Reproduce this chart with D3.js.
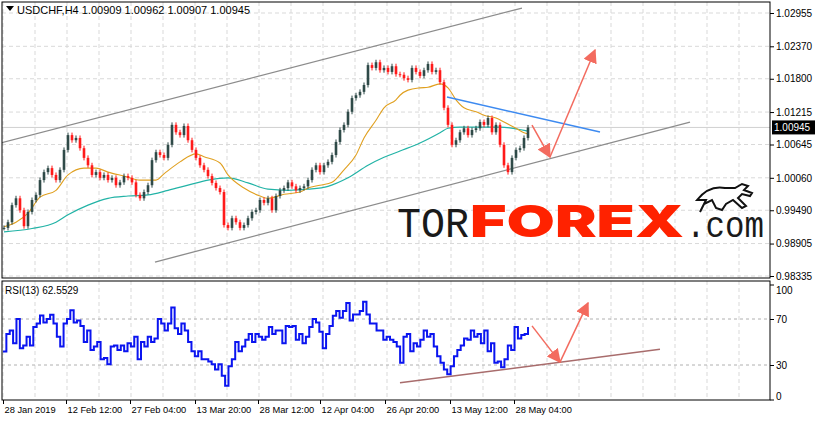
<!DOCTYPE html>
<html><head><meta charset="utf-8">
<script src="https://cdn.jsdelivr.net/npm/d3@7"></script>
<style>body{margin:0;background:#fff}svg{display:block}</style>
</head><body><svg id="c" width="815" height="422"></svg>
<script>
const closes=[0.9918,0.9928,0.9958,0.9970,0.9949,0.9921,0.9946,0.9967,0.9976,1.0002,1.0016,1.0023,1.0011,1.0002,1.0020,1.0055,1.0081,1.0072,1.0076,1.0058,1.0041,1.0028,1.0011,1.0016,1.0006,1.0011,1.0002,1.0006,0.9993,0.9998,1.0009,1.0006,0.9998,0.9976,0.9970,0.9981,0.9993,1.0037,1.0051,1.0046,1.0041,1.0064,1.0099,1.0086,1.0081,1.0097,1.0072,1.0055,1.0041,1.0028,1.0020,1.0009,0.9997,0.9988,0.9981,0.9923,0.9918,0.9935,0.9928,0.9918,0.9923,0.9935,0.9946,0.9949,0.9967,0.9962,0.9970,0.9949,0.9974,0.9984,0.9988,0.9998,0.9991,0.9984,0.9988,0.9991,1.0002,1.0020,1.0028,1.0016,1.0028,1.0034,1.0046,1.0069,1.0090,1.0099,1.0122,1.0146,1.0151,1.0157,1.0169,1.0204,1.0199,1.0209,1.0195,1.0199,1.0192,1.0202,1.0188,1.0187,1.0181,1.0178,1.0199,1.0192,1.0185,1.0195,1.0206,1.0192,1.0195,1.0174,1.0129,1.0099,1.0064,1.0072,1.0086,1.0093,1.0081,1.0090,1.0093,1.0104,1.0099,1.0111,1.0086,1.0099,1.0064,1.0028,1.0016,1.0041,1.0055,1.0058,1.0076,1.00945];
const maFast=[[0,0.9920],[3,0.9928],[6,0.9944],[9,0.9972],[13,0.9984],[16,1.0011],[20,1.0023],[23,1.0023],[26,1.0016],[30,1.0009],[34,1.0002],[38,1.0002],[40,1.0013],[44,1.0034],[48,1.0048],[50,1.0043],[54,1.0032],[56,1.0011],[60,0.9988],[64,0.9974],[66,0.9970],[70,0.9977],[74,0.9981],[76,0.9988],[79,0.9993],[82,0.9998],[85,1.0020],[88,1.0046],[90,1.0076],[93,1.0107],[95,1.0129],[98,1.0143],[99,1.0151],[101,1.0160],[104,1.0164],[106,1.0165],[109,1.0171],[111,1.0164],[113,1.0143],[115,1.0129],[118,1.0122],[120,1.0116],[123,1.0111],[125,1.0104],[128,1.0093],[130,1.0085],[131,1.0083]];
const maSlow=[[0,0.9911],[7,0.9917],[13,0.9928],[16,0.9941],[21,0.9958],[26,0.9970],[31,0.9974],[36,0.9976],[41,0.9984],[46,0.9993],[51,1.0002],[56,1.0006],[61,0.9997],[66,0.9986],[71,0.9984],[76,0.9986],[81,0.9991],[86,1.0006],[91,1.0028],[95,1.0042],[99,1.0053],[104,1.0067],[109,1.0085],[111,1.0093],[114,1.0095],[119,1.0095],[124,1.0095],[128,1.0092],[131,1.0088]];
const rsi=[41.8,57,60,49,70,44.6,47,54.5,47,63,66,73,67,70,73.7,66,54.5,46,66,70,77.6,67,68.6,64,50,60,43,46,50,35,36,30.6,46,47,43,47,42,49,46,54.5,35,50,46,54.5,50,53,70,66,60,66,80,62,57,66,60,50,42,37.6,42,35,35,33,30.6,26,30.6,20.7,12,29,35,50,42,46,52,57,50,57,54.5,52,54.5,63,57,60,60,49,64,63,64,52,57,49,54.5,63,70,67,59,44.6,57,64,72.8,77,71,77,84,68.6,74,74,77,85,74,66,66,60,60,52,54.5,52,50,46,32,54.5,57,42,49,46,52,60,54.5,57,46,37.6,32,26,22,29,37.6,43,47,53,52,60,54.5,57,49,60,42,49,32,33,28,35,47,43,63,53,56,57,63];
const priceTicks=[1.02955,1.02370,1.01800,1.01215,1.00645,1.00060,0.99490,0.98905,0.98335];
const rsiTicks=[100,70,30,0];
const dateLabels=["28 Jan 2019","12 Feb 12:00","27 Feb 04:00","13 Mar 20:00","28 Mar 12:00","12 Apr 04:00","26 Apr 20:00","13 May 12:00","28 May 04:00"];
const dateIdx=[-0.25,15.5,31.5,47.75,63.5,79,95.25,111.5,127.5];
const channelUp=[[-1,1.00670],[129.5,1.03042]];
const channelLo=[[37.75,0.98580],[171.5,1.01040]];
const blueLine=[[110.75,1.01479],[149,1.00864]];
const arrowPrice=[[132,1.00987],[136.5,1.00425],[147.75,1.02305]];
const rsiTrend=[[99,14.5],[164,43.6]];
const arrowRsi=[[132,64],[139,32.5],[146,84]];
const header="USDCHF,H4  1.00909 1.00962 1.00907 1.00945";
const lastPrice=1.00945;

const svg=d3.select("#c");
const L=2,R=770,T=2,B=278,RT=281,RB=400;
const x=d3.scaleLinear().domain([0,191.5]).range([4,770]);
const y=d3.scaleLinear().domain([0.98335,1.02955]).range([276,13]);
const yr=d3.scaleLinear().domain([0,100]).range([399.5,284.5]);
const font="Liberation Sans, Arial, sans-serif";
const defs=svg.append("defs");
defs.append("clipPath").attr("id","cm").append("rect").attr("x",L).attr("y",T).attr("width",R-L).attr("height",B-T);
defs.append("clipPath").attr("id","cr").append("rect").attr("x",L).attr("y",RT).attr("width",R-L).attr("height",RB-RT);
const mk=defs.append("marker").attr("id","ah").attr("viewBox","0 0 10 10").attr("refX",9).attr("refY",5)
 .attr("markerWidth",14).attr("markerHeight",14).attr("orient","auto-start-reverse").attr("markerUnits","userSpaceOnUse");
mk.append("path").attr("d","M0,0L10,5L0,10z").attr("fill","#f36b5f");

const vgrid=d3.range(-0.25,192,8);
const gm=svg.append("g").attr("clip-path","url(#cm)");
const gr=svg.append("g").attr("clip-path","url(#cr)");
[gm,gr].forEach((g,k)=>{
 g.selectAll("line.v").data(vgrid).join("line").attr("x1",d=>x(d)).attr("x2",d=>x(d))
  .attr("y1",k?RT:T).attr("y2",k?RB:B).attr("stroke","#d9d9d9").attr("stroke-dasharray","4,3");
});
gm.selectAll("line.h").data(priceTicks).join("line").attr("x1",L).attr("x2",R).attr("y1",d=>y(d)).attr("y2",d=>y(d))
 .attr("stroke","#d9d9d9").attr("stroke-dasharray","4,3");
gr.selectAll("line.h").data([70,30]).join("line").attr("x1",L).attr("x2",R).attr("y1",d=>yr(d)).attr("y2",d=>yr(d))
 .attr("stroke","#b0b0b0").attr("stroke-dasharray","3,3");
gm.append("line").attr("x1",L).attr("x2",R).attr("y1",y(lastPrice)).attr("y2",y(lastPrice)).attr("stroke","#d0d0d0");

const lg=svg.append("g");
lg.append("text").attr("x",397).attr("y",237).attr("font-family","Liberation Mono, DejaVu Sans Mono, monospace").attr("font-size",43)
 .attr("textLength",72).attr("lengthAdjust","spacingAndGlyphs").attr("fill","#1a1a1a").text("TOR");
lg.append("text").attr("x",470).attr("y",237).attr("font-family","Inter, Open Sans, sans-serif").attr("font-weight",900).attr("font-size",44)
 .attr("textLength",214).attr("lengthAdjust","spacingAndGlyphs").attr("fill","#ff2200").text("FOREX");
lg.append("text").attr("x",686).attr("y",237).attr("font-family","Liberation Mono, DejaVu Sans Mono, monospace").attr("font-size",36)
 .attr("textLength",78).attr("lengthAdjust","spacingAndGlyphs").attr("fill","#1a1a1a").text(".com");
lg.append("path").attr("d","M697,200 C705,190 715,186 725,188 L735,188 L742,184 L748,186 L744,190 L752,193 L750,196 L742,194 L738,198 L746,206 L742,208 L733,200 L726,204 L722,210 L716,208 L712,200 L704,204 L700,212 L706,200 Z")
 .attr("fill","#fff").attr("stroke","#111").attr("stroke-width",2);

const ln=d3.line().x(d=>x(d[0]));
gm.append("path").attr("d",ln.y(d=>y(d[1]))(channelUp)).attr("stroke","#8c8c8c").attr("stroke-width",1.3).attr("fill","none");
gm.append("path").attr("d",ln.y(d=>y(d[1]))(channelLo)).attr("stroke","#8c8c8c").attr("stroke-width",1.3).attr("fill","none");

const lm=d3.line().x(d=>x(d[0])).y(d=>y(d[1])).curve(d3.curveMonotoneX);
gm.append("path").attr("d",lm(maSlow)).attr("stroke","#22b3a6").attr("stroke-width",1.2).attr("fill","none");
gm.append("path").attr("d",lm(maFast)).attr("stroke","#e0a020").attr("stroke-width",1.1).attr("fill","none");

const cd=closes.map((c,i)=>({i,o:i?closes[i-1]:c,c}));
const cg=gm.append("g");
cg.selectAll("line").data(cd).join("line").attr("x1",d=>x(d.i)).attr("x2",d=>x(d.i))
 .attr("y1",d=>y(Math.max(d.o,d.c))-2.5).attr("y2",d=>y(Math.min(d.o,d.c))+2.5)
 .attr("stroke",d=>d.c>=d.o?"#2f4a48":"#ff1a1a").attr("stroke-width",1);
cg.selectAll("rect").data(cd).join("rect").attr("x",d=>x(d.i)-1.3).attr("width",2.6)
 .attr("y",d=>y(Math.max(d.o,d.c))).attr("height",d=>Math.max(1,Math.abs(y(d.o)-y(d.c))))
 .attr("fill",d=>d.c>=d.o?"#2f4a48":"#ff1a1a");

gm.append("path").attr("d",ln.y(d=>y(d[1]))(blueLine)).attr("stroke","#3d8af0").attr("stroke-width",1.5).attr("fill","none");
const arrow=(g,pts,ys)=>{
 for(let k=0;k<pts.length-1;k++) g.append("line").attr("x1",x(pts[k][0])).attr("y1",ys(pts[k][1])).attr("x2",x(pts[k+1][0])).attr("y2",ys(pts[k+1][1]))
  .attr("stroke","#f36b5f").attr("stroke-width",1.5).attr("marker-end","url(#ah)");
};
arrow(svg.append("g"),arrowPrice,y);

gr.append("path").attr("d",ln.y(d=>yr(d[1]))(rsiTrend)).attr("stroke","#a86c6c").attr("stroke-width",1.5).attr("fill","none");
const rx=d3.scaleLinear().domain([0,rsi.length-1]).range([x(0)-1,x(closes.length-1)]);
gr.append("path").attr("d",d3.line().x((d,i)=>rx(i)).y(d=>yr(d)).curve(d3.curveStepAfter)(rsi)).attr("stroke","#0a14f0").attr("stroke-width",2).attr("fill","none");
arrow(svg.append("g"),arrowRsi,yr);

svg.append("rect").attr("x",L).attr("y",T).attr("width",R-L).attr("height",B-T).attr("fill","none").attr("stroke","#000");
svg.append("rect").attr("x",L).attr("y",RT).attr("width",R-L).attr("height",RB-RT).attr("fill","none").attr("stroke","#000");

const ay=svg.append("g").attr("transform",`translate(${R},0)`).call(d3.axisRight(y).tickValues(priceTicks).tickFormat(d3.format(".5f")).tickSize(4).tickPadding(2));
const ar=svg.append("g").attr("transform",`translate(${R},0)`).call(d3.axisRight(yr).tickValues(rsiTicks).tickSize(4).tickPadding(2));
[ay,ar].forEach(a=>{a.select(".domain").remove();a.selectAll("text").attr("font-family",font).attr("font-size",10).attr("fill","#000");});
ar.selectAll(".tick").filter(d=>d===100).select("text").attr("dy","0.9em");
ar.selectAll(".tick").filter(d=>d===0).select("text").attr("dy","0em");
const ax=svg.append("g").attr("transform",`translate(0,${RB})`).call(d3.axisBottom(x).tickValues(dateIdx).tickFormat((d,i)=>dateLabels[i]).tickSize(4).tickPadding(2));
ax.select(".domain").remove();
ax.selectAll("text").attr("font-family",font).attr("font-size",9.3).attr("text-anchor","start").attr("dx",1).attr("fill","#000");

svg.append("rect").attr("x",R+2).attr("y",y(lastPrice)-7).attr("width",43).attr("height",14).attr("fill","#000");
svg.append("text").attr("x",R+4).attr("y",y(lastPrice)+4).attr("font-family",font).attr("font-size",10).attr("fill","#fff").text(d3.format(".5f")(lastPrice));

svg.append("path").attr("d","M6,6L14,6L10,11Z").attr("fill","#000");
svg.append("text").attr("x",17).attr("y",14).attr("font-family",font).attr("font-size",11).attr("fill","#000").text(header);
svg.append("text").attr("x",5).attr("y",294).attr("font-family",font).attr("font-size",10).attr("fill","#000").text("RSI(13) 62.5529");
</script></body></html>
